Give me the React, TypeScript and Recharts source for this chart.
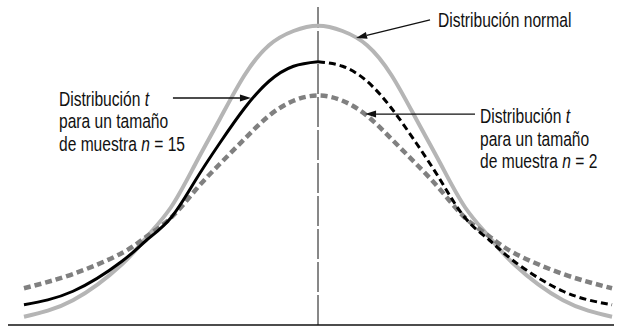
import React from 'react'
import {
  ComposedChart,
  Line,
  XAxis,
  YAxis,
  ReferenceLine,
  ReferenceDot,
} from 'recharts'

// x positions (standard units) and curve heights
const xs = [-3, -2.5, -2, -1.75, -1.5, -1.25, -1, -0.75, -0.5, -0.25, 0, 0.25, 0.5, 0.75, 1, 1.25, 1.5, 1.75, 2, 2.5, 3]
const normal = [0.011, 0.033, 0.081, 0.117, 0.157, 0.215, 0.275, 0.333, 0.373, 0.392, 0.399, 0.392, 0.373, 0.333, 0.275, 0.215, 0.157, 0.117, 0.081, 0.033, 0.011]
const t15 = [0.027, 0.045, 0.085, 0.113, 0.143, 0.193, 0.243, 0.289, 0.325, 0.345, 0.351, 0.345, 0.325, 0.289, 0.243, 0.193, 0.143, 0.113, 0.085, 0.045, 0.027]
const t2 = [0.049, 0.068, 0.096, 0.118, 0.143, 0.18, 0.215, 0.248, 0.279, 0.299, 0.306, 0.299, 0.279, 0.248, 0.215, 0.18, 0.143, 0.118, 0.096, 0.068, 0.049]

const normalLabel = ['Distribución normal']
const leftLabel = ['Distribución |t|', 'para un tamaño', 'de muestra |n| = 15']
const rightLabel = ['Distribución |t|', 'para un tamaño', 'de muestra |n| = 2']

const data = xs.map((x, i) => ({
  x,
  normal: normal[i],
  t2: t2[i],
  t15L: x <= 0 ? t15[i] : null,
  t15R: x >= 0 ? t15[i] : null,
}))

const FONT = "'Liberation Sans', Arial, sans-serif"
const SQUEEZE = 0.8

// text with |...| parts set in italics
function renderLine(str: string) {
  return str.split('|').map((part, i) => (
    <tspan key={i} fontStyle={i % 2 === 1 ? 'italic' : 'normal'}>
      {part}
    </tspan>
  ))
}

function textBlock(lines: string[]) {
  return (props: any) => (
    <g transform={`translate(${props.cx},${props.cy}) scale(${SQUEEZE},1)`}>
      <text x={0} y={0} fontFamily={FONT} fontSize={19.5} fill="#111">
        {lines.map((l, i) => (
          <tspan key={i} x={0} dy={i === 0 ? 0 : 22.5}>
            {renderLine(l)}
          </tspan>
        ))}
      </text>
    </g>
  )
}

function Arrow(props: any) {
  const { x1, y1, x2, y2 } = props
  const ang = Math.atan2(y2 - y1, x2 - x1)
  const len = 11
  const w = 3.5
  const bx = x2 - len * Math.cos(ang)
  const by = y2 - len * Math.sin(ang)
  const px = -Math.sin(ang) * w
  const py = Math.cos(ang) * w
  return (
    <g>
      <line x1={x1} y1={y1} x2={bx} y2={by} stroke="#111" strokeWidth={1.3} />
      <polygon points={`${x2},${y2} ${bx + px},${by + py} ${bx - px},${by - py}`} fill="#111" />
    </g>
  )
}

export default function App() {
  return (
    <div style={{ position: 'absolute', left: 0, top: 0, background: '#fff' }}>
      <ComposedChart
        width={622}
        height={330}
        data={data}
        margin={{ top: 7, right: 8, left: 8, bottom: 0 }}
      >
        <XAxis
          dataKey="x"
          type="number"
          domain={[-3.163, 3.02]}
          allowDataOverflow
          tick={false}
          tickLine={false}
          height={5}
          axisLine={{ stroke: '#111', strokeWidth: 1.6 }}
        />
        <YAxis type="number" domain={[0, 0.424]} allowDataOverflow hide />
        <ReferenceLine x={0} stroke="#111" strokeWidth={1} strokeDasharray="30 3" />
        <Line dataKey="normal" type="natural" stroke="#b5b5b5" strokeWidth={4} dot={false} isAnimationActive={false} />
        <Line dataKey="t2" type="natural" stroke="#808080" strokeWidth={4.5} strokeDasharray="7 4" dot={false} isAnimationActive={false} />
        <Line dataKey="t15L" type="natural" stroke="#000" strokeWidth={3} dot={false} isAnimationActive={false} />
        <Line dataKey="t15R" type="natural" stroke="#000" strokeWidth={3} strokeDasharray="7 4" dot={false} isAnimationActive={false} />

        <ReferenceLine segment={[{ x: 1.143, y: 0.4067 }, { x: 0.388, y: 0.3827 }]} shape={Arrow} />
        <ReferenceLine segment={[{ x: -1.48, y: 0.3027 }, { x: -0.684, y: 0.3027 }]} shape={Arrow} />
        <ReferenceLine segment={[{ x: 1.602, y: 0.2813 }, { x: 0.48, y: 0.2813 }]} shape={Arrow} />

        <ReferenceDot x={1.224} y={0.3973} r={0} shape={textBlock(normalLabel)} />
        <ReferenceDot x={-2.643} y={0.292} r={0} shape={textBlock(leftLabel)} />
        <ReferenceDot x={1.653} y={0.2693} r={0} shape={textBlock(rightLabel)} />
      </ComposedChart>
    </div>
  )
}
